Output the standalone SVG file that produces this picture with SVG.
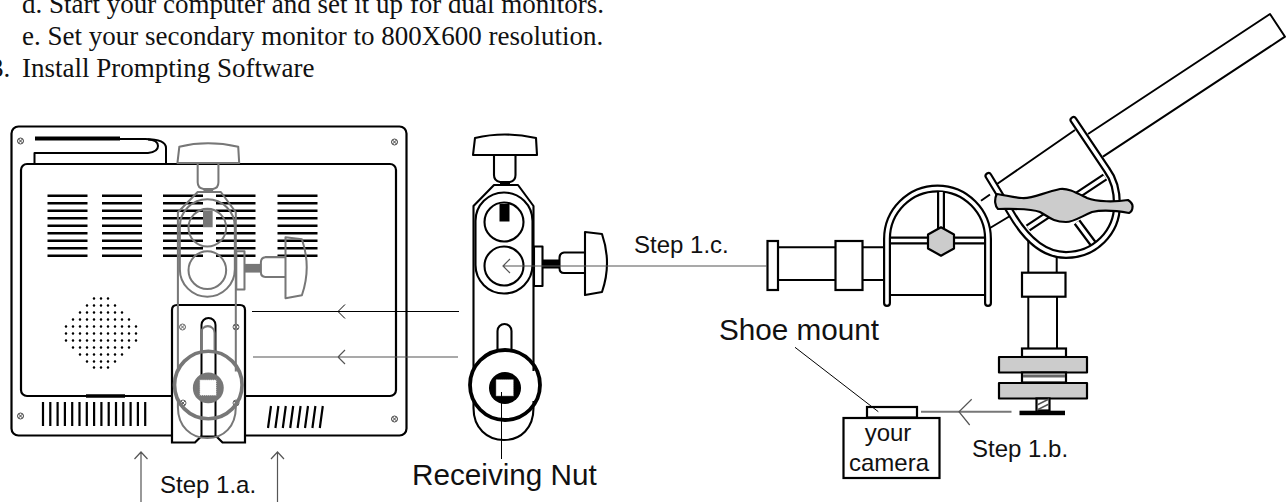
<svg xmlns="http://www.w3.org/2000/svg" xmlns:xlink="http://www.w3.org/1999/xlink" width="1286" height="502" viewBox="0 0 1286 502">
<style>
text{font-family:"Liberation Sans",Arial,sans-serif;font-size:24px;fill:#111}
.top{font-family:"Liberation Serif","Times New Roman",serif;font-size:27px}
.big{font-size:29.7px}
.l{fill:none;stroke:#000;stroke-width:2;stroke-linejoin:round}
.w{fill:#fff;stroke:#000;stroke-width:2.2}
.g{fill:#ccc;stroke:#000;stroke-width:2.2;stroke-linejoin:round}
.vent{stroke:#000;stroke-width:2.5;fill:none}
.arrow{fill:none;stroke:#000;stroke-width:1}
.grayarrow{fill:none;stroke:#555;stroke-width:1.2}
.hb{fill:none;stroke:#000;stroke-width:8;stroke-linecap:round;stroke-linejoin:round}
.hw{fill:none;stroke:#fff;stroke-width:3.6;stroke-linecap:round;stroke-linejoin:round}
.sp{fill:none;stroke:#000;stroke-width:2.6;stroke-linecap:round;stroke-dasharray:0 7}
</style>
<defs>
<g id="screw"><circle r="3" fill="none" stroke-width="1"/><path d="M-2,-2L2,2M2,-2L-2,2" stroke-width="1" fill="none"/></g>
<g id="clampShape" fill="none" stroke="currentColor" stroke-width="2.1" stroke-linejoin="round">
<path d="M473,155L475,138Q504,131 536,138L537,155Z"/>
<path d="M494,155V175Q494,181 500,182H510Q515.5,181 515.5,175V155"/>
<path d="M500,183H510" stroke-width="3"/>
<path d="M473.5,371V206L494,185H518L533.5,206V371"/>
<rect x="475.5" y="192.5" width="57" height="101" rx="28.5"/>
<circle cx="504" cy="222" r="19.5"/>
<circle cx="504" cy="266" r="19.5"/>
<rect x="499.5" y="204" width="10" height="17.500" fill="currentColor" stroke="none"/>
<rect x="534" y="246.500" width="8.500" height="39.500"/>
<rect x="542.500" y="259.500" width="17" height="9" fill="currentColor" stroke="none"/>
<path d="M585,252.500H564Q559.500,253 559.500,258V268Q559.500,273 564,273H585"/>
<path d="M585,232L602,234Q612,263 602,292L585,295Z"/>
<path d="M497.500,350V331A7,7 0 0 1 511.500,331V350"/>
<circle cx="505" cy="385" r="35" stroke-width="3.800"/>
<path d="M473.500,401V408C473.500,428 487,440 504,440C521,440 533.500,428 533.500,408V401"/>
<circle cx="505" cy="388" r="16" fill="currentColor" stroke="none"/>
<rect x="496" y="379.500" width="17.500" height="16.500" fill="#fff" stroke="#777" stroke-width="1" stroke-dasharray="1 1"/>
</g>
</defs>

<g id="top-text">
<text class="top" x="22" y="13">d. Start your computer and set it up for dual monitors.</text>
<text class="top" x="22" y="45">e. Set your secondary monitor to 800X600 resolution.</text>
<text class="top" x="-10" y="77">3. <tspan x="22">Install Prompting Software</tspan></text>
</g>

<g id="monitor">
<rect x="11.500" y="126.500" width="395" height="309" rx="7" class="w"/>
<rect x="21" y="164" width="375" height="232" rx="6" class="w"/>
<path d="M35,139H145Q166,139 166,148V163" class="l"/>
<path d="M35,138.500H120" stroke="#000" stroke-width="4" fill="none"/>
<path d="M34.500,163V153H148Q158,152 158,146Q158,140 148,139.500" class="l"/>
<path class="vent" d="M47.500,195.700h40m-40,7.500h40m-40,7.500h40m-40,7.500h40m-40,7.500h40m-40,7.500h40m-40,7.500h40m-40,7.500h40m-40,7.500h40"/>
<path class="vent" d="M102,195.700h40m-40,7.500h40m-40,7.500h40m-40,7.500h40m-40,7.500h40m-40,7.500h40m-40,7.500h40m-40,7.500h40m-40,7.500h40"/>
<path class="vent" d="M163,195.700h40m-40,7.500h40m-40,7.500h40m-40,7.500h40m-40,7.500h40m-40,7.500h40m-40,7.500h40m-40,7.500h40m-40,7.500h40"/>
<path class="vent" d="M216,195.700h39.500m-39.500,7.500h39.500m-39.500,7.500h39.500m-39.500,7.500h39.500m-39.500,7.500h39.500m-39.500,7.500h39.500m-39.500,7.500h39.500m-39.500,7.500h39.500m-39.500,7.500h39.500"/>
<path class="vent" d="M277.500,195.700h40m-40,7.500h40m-40,7.500h40m-40,7.500h40m-40,7.500h40m-40,7.500h40m-40,7.500h40m-40,7.500h40m-40,7.500h40"/>
<path class="sp" d="M94,298.500h14.100M87,305.500h28.100M80,312.500h42.100M73,319.500h56.100M66,326.500h70.100M66,333.500h70.100M66,340.500h70.100M73,347.500h56.100M80,354.500h42.100M87,361.500h28.100M94,367.500h14.100"/>
<path d="M43,402v24m7.300,-24v24m7.300,-24v24m7.300,-24v24m7.300,-24v24m7.300,-24v24m7.300,-24v24m7.300,-24v24m7.300,-24v24m7.300,-24v24m7.300,-24v24m7.300,-24v24m7.300,-24v24m7.300,-24v24m7.300,-24v24" stroke="#000" stroke-width="2.200" fill="none"/>
<path d="M86,396h39" stroke="#000" stroke-width="3.500"/>
<path d="M271,406l-3,22m10.400,-22l-3,22m10.400,-22l-3,22m10.400,-22l-3,22m10.400,-22l-3,22m10.400,-22l-3,22m10.400,-22l-3,22m10.400,-22l-3,22" stroke="#000" stroke-width="2.200" fill="none"/>
<use xlink:href="#screw" href="#screw" x="20.500" y="141" stroke="#444"/>
<use xlink:href="#screw" href="#screw" x="394.500" y="142" stroke="#444"/>
<use xlink:href="#screw" href="#screw" x="20.500" y="416" stroke="#444"/>
<use xlink:href="#screw" href="#screw" x="394.500" y="419" stroke="#444"/>
</g>

<g id="bracket">
<path d="M172,442.500V310Q172,305 177,305H240Q245,305 245,310V442.500H222.500L216.500,436.500H201L195,442.500Z" fill="#fff" stroke="#000" stroke-width="2.200"/>
<path d="M201.500,436V325A7,7 0 0 1 215.500,325V436" class="l"/>
<use xlink:href="#screw" href="#screw" x="182.500" y="327" stroke="#666"/>
<use xlink:href="#screw" href="#screw" x="236" y="327" stroke="#666"/>
<use xlink:href="#screw" href="#screw" x="183" y="403" stroke="#666"/>
<use xlink:href="#screw" href="#screw" x="236" y="403" stroke="#666"/>
</g>

<g id="clamp-ghost" color="#777"><use xlink:href="#clampShape" href="#clampShape" transform="translate(208.300 385) scale(.965) translate(-505 -385)"/></g>
<g id="clamp" color="#000"><use xlink:href="#clampShape" href="#clampShape"/></g>

<g id="arm">
<path class="l" d="M981,200.700L990,194.500M997,184L1075,130M1088,134L1270,14L1285,36.700L1103,156.700M1010,216L990,228"/>
<g id="spokes">
<path d="M1028,228L1105,177M1077,222L1093,243.500" stroke="#000" stroke-width="8" fill="none"/>
<path d="M1028,228L1105,177M1077,222L1093,243.500" stroke="#fff" stroke-width="3.600" fill="none"/>
</g>
<path class="hb" d="M988.500,176L1011,213C1022,232 1040,255 1066,255C1095,255 1117,232 1117,205C1117,190 1113,178 1107,170L1073.500,120"/>
<path class="hw" d="M988.500,176L1011,213C1022,232 1040,255 1066,255C1095,255 1117,232 1117,205C1117,190 1113,178 1107,170L1073.500,120"/>
<path class="g" d="M996.700,194C1005,195 1013,197.500 1022,198C1032,199 1042,193 1060,189C1068,188 1075,192 1087,198C1097,202 1115,202 1128,200C1131,202 1133,204 1132.500,207C1132.500,210 1131,212 1129,213C1118,211 1105,209 1092,212C1082,216 1074,222 1066,222C1052,222 1048,216 1040,212C1030,208 1012,209 998,209C995,206 994,200 996.700,194Z"/>
</g>

<g id="post">
<path class="l" d="M1028.300,240V272M1056.700,257V272"/>
<rect class="w" x="1022" y="272.700" width="43.500" height="24"/>
<path class="l" d="M1028.300,297V348M1057,297V348"/>
<rect class="w" x="1022" y="348.500" width="44" height="8.500"/>
<rect class="g" x="999" y="357" width="88" height="15.500"/>
<rect class="w" x="1022" y="372.500" width="44" height="10"/>
<rect x="1023" y="374.500" width="42" height="3" fill="#666"/>
<rect class="g" x="999" y="383" width="88" height="15.500"/>
<rect class="w" x="1036.500" y="398.500" width="13" height="12"/>
<path d="M1037,405L1049,399M1037,410L1049,404" stroke="#555" stroke-width="1.500"/>
<rect x="1019.500" y="410.700" width="45.500" height="4.500" fill="#000"/>
</g>

<g id="hoop">
<path class="hb" d="M887,303V239A50.500,50.500 0 0 1 988,239V303"/>
<path class="hw" d="M887,303V239A50.500,50.500 0 0 1 988,239V303"/>
<path d="M891,240.500H984M941,192V230" stroke="#000" stroke-width="8" fill="none"/>
<path d="M891,240.500H984M941,192V230" stroke="#fff" stroke-width="3.600" fill="none"/>
<path class="l" d="M891,295H984"/>
<path class="g" d="M941,227.300L954,234.500V248.500L941,255.700L928,248.500V234.500Z"/>
</g>

<g id="tube">
<path class="l" d="M778,247.300H835.500M778,280H835.500M862.500,247.300H883M862.500,280H883"/>
<rect class="w" x="767.500" y="241" width="10.500" height="49"/>
<rect class="w" x="835.500" y="241" width="27" height="49"/>
</g>

<g id="camera">
<rect class="w" x="867" y="407" width="50" height="10.500"/>
<rect class="w" x="843.500" y="418" width="96" height="60"/>
<text x="888" y="441" text-anchor="middle">your</text>
<text x="889" y="471" text-anchor="middle">camera</text>
</g>

<g id="connectors">
<path class="arrow" d="M459,311.500H252M345,304.500L338,311.500L345,318.500"/>
<path class="grayarrow" d="M458,357H253M345,350L338,357L345,364"/>
<path class="grayarrow" d="M767,266H503M510,259L503,266L510,273"/>
<path class="arrow" d="M795,347.300L878.300,411.700"/>
<path d="M921,411.700H1011.500" stroke="#777" stroke-width="2" fill="none"/>
<path class="grayarrow" d="M971.700,399.300L959,411.700L969.700,425"/>
<path class="grayarrow" d="M141,502V452M134.500,459L141,452L147.500,459"/>
<path class="grayarrow" d="M277.500,502V452M271,459L277.500,452L284,459"/>
<path class="arrow" d="M501.500,392V459"/>
</g>

<g id="labels">
<text x="160" y="493">Step 1.a.</text>
<text x="634" y="253">Step 1.c.</text>
<text x="972" y="457">Step 1.b.</text>
<text class="big" x="719" y="340">Shoe mount</text>
<text class="big" x="412" y="485">Receiving Nut</text>
</g>
</svg>
